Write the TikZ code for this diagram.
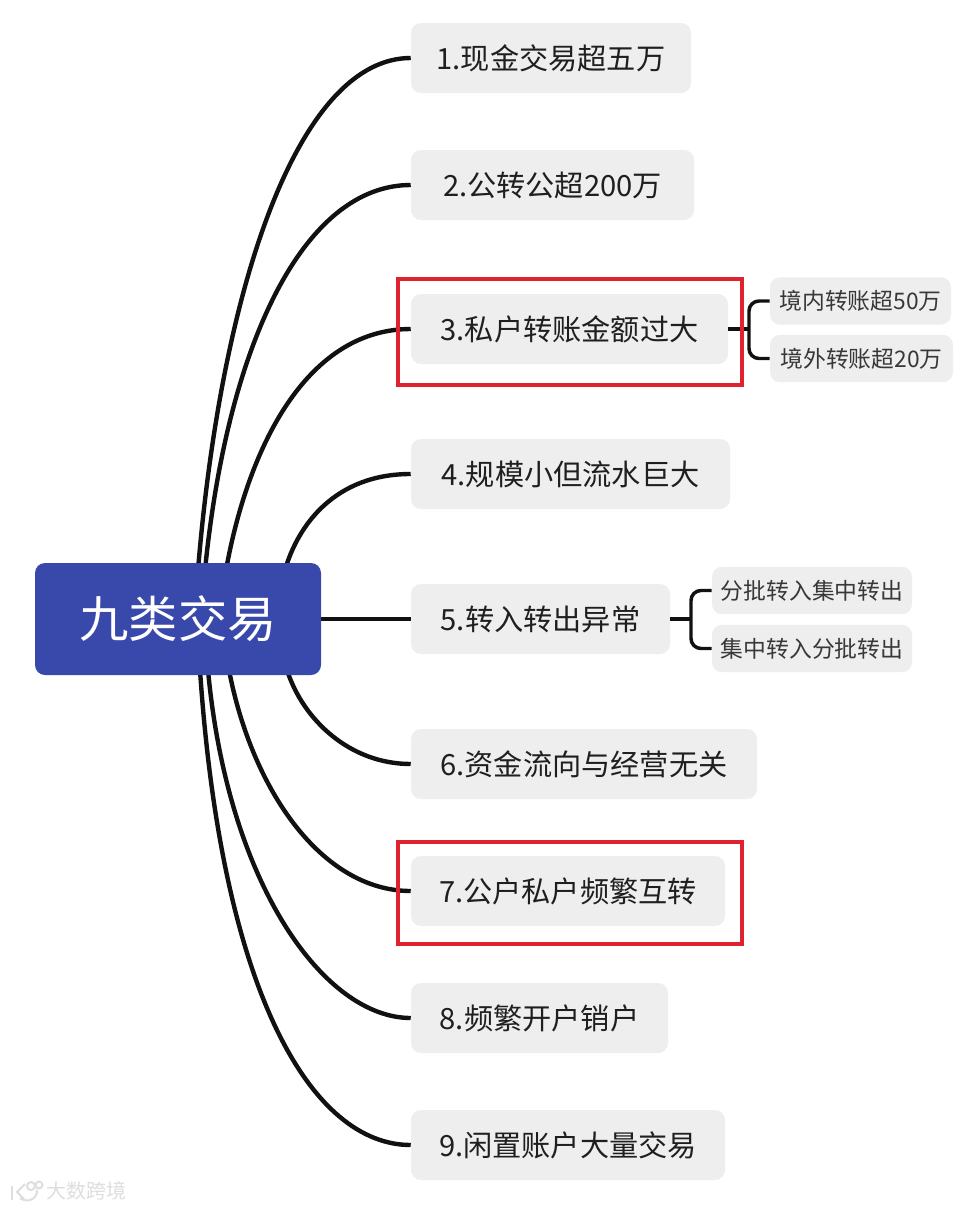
\documentclass[tikz,border=0pt]{standalone}
\usepackage{fontspec}
\setmainfont{Noto Sans CJK SC}
\begin{document}
\begin{tikzpicture}[x=0.75pt,y=-0.75pt,
  topic/.style={fill=boxgray,rounded corners=7.5pt,inner sep=0pt,text=ink,font=\fontsize{21.9}{26}\selectfont,minimum height=52.5pt},
  subtopic/.style={fill=boxgray,rounded corners=7.5pt,inner sep=0pt,text=subink,font=\fontsize{17.1}{20}\selectfont,minimum height=35.5pt},
  rootbox/.style={fill=rootblue,rounded corners=7.5pt,inner sep=0pt,text=white,font=\fontsize{37}{42}\selectfont,minimum width=214.5pt,minimum height=84pt},
  link/.style={draw=linkblack,line width=3.3pt},
  sublink/.style={draw=linkblack,line width=2.6pt,rounded corners=7.5pt},
  redframe/.style={draw=framered,line width=3pt,minimum width=258.5pt,inner sep=0pt},
  mark text/.style={text=markgray,font=\fontsize{15}{18}\selectfont}]
\definecolor{boxgray}{HTML}{EEEEEE}
\definecolor{ink}{HTML}{1F1F1F}
\definecolor{subink}{HTML}{383838}
\definecolor{rootblue}{HTML}{3949AB}
\definecolor{linkblack}{HTML}{111111}
\definecolor{framered}{HTML}{E0212E}
\definecolor{markgray}{HTML}{DEDEDE}
\useasboundingbox (0,0) rectangle (970,1210);
\fill[white] (0,0) rectangle (970,1210);
% nodes
\node[topic,minimum width=210pt] (n1) at (551,58) {1.现金交易超五万};
\node[topic,minimum width=212.25pt] (n2) at (552.5,185) {2.公转公超200万};
\node[topic,minimum width=237.75pt] (n3) at (569.5,329) {3.私户转账金额过大};
\node[topic,minimum width=239.25pt] (n4) at (570.5,474) {4.规模小但流水巨大};
\node[topic,minimum width=194.25pt] (n5) at (540.5,619) {5.转入转出异常};
\node[topic,minimum width=259.5pt] (n6) at (584,764) {6.资金流向与经营无关};
\node[topic,minimum width=235.5pt] (n7) at (568,891) {7.公户私户频繁互转};
\node[topic,minimum width=192.75pt] (n8) at (539.5,1018) {8.频繁开户销户};
\node[topic,minimum width=235.5pt] (n9) at (568,1145) {9.闲置账户大量交易};
\node[subtopic,minimum width=135.75pt] (s1) at (860.5,301) {境内转账超50万};
\node[subtopic,minimum width=137.25pt] (s2) at (861.5,358.5) {境外转账超20万};
\node[subtopic,minimum width=150pt] (s3) at (812,590.5) {分批转入集中转出};
\node[subtopic,minimum width=150pt] (s4) at (812,648.5) {集中转入分批转出};
% connector anchors on the root
\coordinate (a1) at (198,570);
\coordinate (a2) at (205,570);
\coordinate (a3) at (226,570);
\coordinate (a4) at (285,570);
\coordinate (a6) at (287,670);
\coordinate (a7) at (229,670);
\coordinate (a8) at (208,670);
\coordinate (a9) at (200,670);
\coordinate (j3) at (749,329);
\coordinate (j5) at (691,619);
% connectors
\draw[link] (a1) .. controls (222,280) and (300,58) .. (n1.west);
\draw[link] (a2) .. controls (228,340) and (305,185) .. (n2.west);
\draw[link] (a3) .. controls (250,438) and (311,329) .. (n3.west);
\draw[link] (a4) .. controls (298,525) and (335,474) .. (n4.west);
\draw[link] (321,619) -- (n5.west);
\draw[link] (a6) .. controls (303,720) and (350,764) .. (n6.west);
\draw[link] (a7) .. controls (252,790) and (322,891) .. (n7.west);
\draw[link] (a8) .. controls (228,886) and (325,1018) .. (n8.west);
\draw[link] (a9) .. controls (222,997) and (313,1145) .. (n9.west);
\draw[sublink] (n3.east) -- (j3);
\draw[sublink] (s1.west) -| (j3) |- (s2.west);
\draw[sublink] (n5.east) -- (j5);
\draw[sublink] (s3.west) -| (j5) |- (s4.west);
\node[rootbox] (root) at (178,619) {九类交易};
\node[redframe,minimum height=79.5pt] (r1) at (570,332) {};
\node[redframe,minimum height=76.5pt] (r2) at (570,893) {};
% watermark
\begin{scope}[draw=markgray,line width=1.5pt]
\draw (12,1186) -- (12,1200);
\draw (25,1184) -- (17,1192) -- (24,1199);
\draw (20,1198) .. controls (28,1204) and (38,1198) .. (37,1190);
\draw (31,1186) circle[radius=4];
\draw (39,1185) circle[radius=3.5];
\end{scope}
\node[mark text,anchor=west,inner sep=0pt] (wm) at (46,1191) {大数跨境};
\end{tikzpicture}
\end{document}
